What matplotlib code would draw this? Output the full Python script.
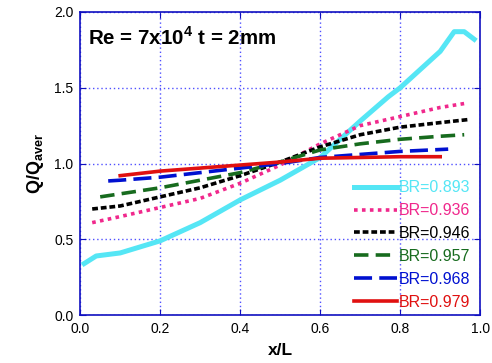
import numpy as np
import matplotlib.pyplot as plt

plt.rcParams['font.family'] = ['Liberation Sans', 'DejaVu Sans']
plt.rcParams['mathtext.fontset'] = 'custom'
plt.rcParams['mathtext.rm'] = 'Liberation Sans'
plt.rcParams['mathtext.bf'] = 'Liberation Sans:bold'

# data
labels = ['BR=0.893', 'BR=0.936', 'BR=0.946', 'BR=0.957', 'BR=0.968', 'BR=0.979']
colors = ['#55e6f5', '#f0288c', '#000000', '#176b1e', '#0010d0', '#e01010']

x_893 = [0.01, 0.04, 0.1, 0.2, 0.3, 0.4, 0.5, 0.6, 0.7, 0.77, 0.8, 0.9, 0.935, 0.96, 0.985]
y_893 = [0.34, 0.39, 0.41, 0.49, 0.61, 0.76, 0.89, 1.04, 1.28, 1.44, 1.50, 1.74, 1.87, 1.87, 1.82]

x_936 = [0.03, 0.1, 0.2, 0.3, 0.4, 0.5, 0.6, 0.7, 0.8, 0.9, 0.97]
y_936 = [0.61, 0.65, 0.71, 0.77, 0.87, 0.99, 1.13, 1.25, 1.31, 1.37, 1.40]

x_946 = [0.03, 0.1, 0.2, 0.3, 0.4, 0.5, 0.6, 0.7, 0.8, 0.9, 0.97]
y_946 = [0.70, 0.72, 0.78, 0.84, 0.92, 1.01, 1.11, 1.19, 1.24, 1.27, 1.29]

x_957 = [0.05, 0.1, 0.2, 0.3, 0.4, 0.5, 0.6, 0.7, 0.8, 0.9, 0.96]
y_957 = [0.78, 0.80, 0.84, 0.89, 0.94, 1.01, 1.09, 1.13, 1.16, 1.18, 1.19]

x_968 = [0.07, 0.1, 0.2, 0.3, 0.4, 0.5, 0.6, 0.7, 0.8, 0.92]
y_968 = [0.885, 0.89, 0.91, 0.94, 0.97, 1.00, 1.04, 1.06, 1.08, 1.095]

x_979 = [0.1, 0.2, 0.3, 0.4, 0.5, 0.6, 0.7, 0.8, 0.9]
y_979 = [0.92, 0.95, 0.97, 0.99, 1.01, 1.035, 1.04, 1.045, 1.045]

xs = [x_893, x_936, x_946, x_957, x_968, x_979]
ys = [y_893, y_936, y_946, y_957, y_968, y_979]
styles = ['-', (0, (1, 1.2)), (0, (1.6, 0.8)), (0, (4, 2)), (0, (5, 2)), '-']
widths = [3.6, 2.6, 2.6, 2.6, 2.6, 2.6]

fig = plt.figure(figsize=(4.92, 3.63), dpi=100)
ax = fig.add_axes([0.163, 0.132, 0.813, 0.835])

for x, y, lab, c, ls, lw in zip(xs, ys, labels, colors, styles, widths):
    ax.plot(x, y, color=c, linestyle=ls, linewidth=lw, label=lab)

ax.set_xlim(0, 1.0)
ax.set_ylim(0, 2.0)
ax.set_xticks(np.arange(0, 1.01, 0.2))
ax.set_yticks(np.arange(0, 2.01, 0.5))
ax.set_xticklabels(['%.1f' % v for v in np.arange(0, 1.01, 0.2)])
ax.set_yticklabels(['%.1f' % v for v in np.arange(0, 2.01, 0.5)])
ax.tick_params(direction='in', length=4, color='#1010c0', labelsize=10,
               top=True, right=True, pad=5)
ax.grid(True, color='#5050ff', linestyle=(0, (1, 2)), linewidth=1.0)
for s in ax.spines.values():
    s.set_color('#1010c0')
    s.set_linewidth(1.2)

ax.set_xlabel('x/L', fontsize=12.5, fontweight='bold', labelpad=5)
ax.set_ylabel(r'$\mathbf{Q/Q_{aver}}$', fontsize=13, labelpad=6)
ax.text(0.02, 1.83, r'Re = 7x10$^{\mathbf{4}}$ t = 2mm', fontsize=14.8,
        fontweight='bold', va='center', ha='left')

leg = ax.legend(loc='lower right', bbox_to_anchor=(1.0, -0.015), frameon=False,
                fontsize=11.5, handlelength=2.7, handletextpad=0.15,
                labelspacing=0.5, labelcolor='linecolor', borderaxespad=0.2)

fig.savefig('out.png', dpi=100)
